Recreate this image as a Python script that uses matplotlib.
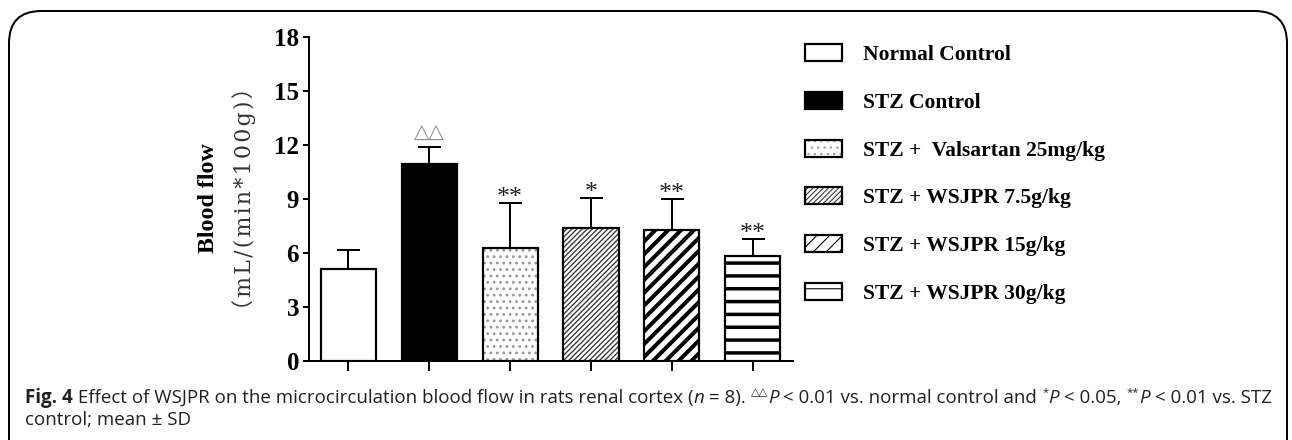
import numpy as np
import matplotlib
matplotlib.use("Agg")
import matplotlib.pyplot as plt
from matplotlib.patches import Rectangle, FancyBboxPatch
from matplotlib.transforms import IdentityTransform

# data
groups = ["Normal Control", "STZ Control", "STZ +  Valsartan 25mg/kg",
          "STZ + WSJPR 7.5g/kg", "STZ + WSJPR 15g/kg", "STZ + WSJPR 30g/kg"]
means = [5.07, 10.95, 6.28, 7.38, 7.28, 5.82]
sds = [1.06, 0.95, 2.47, 1.65, 1.70, 0.92]
marks = ["", "\u25b3\u25b3", "**", "*", "**", "**"]
yticks = [0, 3, 6, 9, 12, 15, 18]

W, H, DPI = 1292, 440, 77


def pt(px):
    # pixels -> points at this dpi
    return px * 72.0 / DPI


# look of each bar: face, hatch, hatch colour, hatch linewidth (px)
styles = [
    ("white", "", "black", 1),
    ("black", "", "black", 1),
    ("white", "..", "#9a9a9a", 1.6),
    ("white", "/////", "#333333", 1.3),
    ("white", "//", "black", 4.0),
    ("white", "-", "black", 3.5),
]

fig = plt.figure(figsize=(W / DPI, H / DPI), dpi=DPI)
fig.patch.set_facecolor("white")

# rounded frame round the whole figure
frame = FancyBboxPatch((9 / W, -0.2), (1287 - 9) / W, 1.2 - 11 / H,
                       boxstyle="round,pad=0,rounding_size=0.025",
                       transform=fig.transFigure, fill=False,
                       edgecolor="black", linewidth=pt(2), mutation_aspect=W / H)
fig.add_artist(frame)

ax = fig.add_axes([309 / W, (H - 360.5) / H, (793 - 309) / W, (360.5 - 37.3) / H])
x = np.arange(len(groups))
width = 0.68

handles = []
for i, (face, hatch, hcol, hlw) in enumerate(styles):
    with plt.rc_context({"hatch.linewidth": pt(hlw)}):
        ax.bar(x[i], means[i], width, color=face, edgecolor=hcol,
               hatch=hatch, linewidth=0, zorder=2)
        hp = Rectangle((0, 0), 1, 1, facecolor=face, edgecolor=hcol,
                       hatch=hatch, linewidth=0)
    ax.bar(x[i], means[i], width, color="none", edgecolor="black",
           linewidth=pt(2.2), zorder=3)
    op = Rectangle((0, 0), 1, 1, facecolor="none", edgecolor="black",
                   linewidth=pt(2.2))
    handles.append((hp, op))

ax.errorbar(x, means, yerr=[np.zeros(len(x)), sds], fmt="none", ecolor="black",
            elinewidth=pt(2), capsize=pt(11.5), capthick=pt(2), zorder=1)

for i, m in enumerate(marks):
    if not m:
        continue
    top = means[i] + sds[i]
    if m.startswith("\u25b3"):
        ax.annotate(m, (x[i], top), xytext=(0, pt(5)), textcoords="offset points",
                    ha="center", va="bottom", fontsize=pt(20), color="#8c8c8c",
                    family="DejaVu Sans")
    else:
        ax.annotate(m, (x[i], top), xytext=(0, pt(-6)), textcoords="offset points",
                    ha="center", va="bottom", fontsize=pt(26), color="#222222",
                    family="Liberation Serif")

ax.set_xlim(-0.483, 5.495)
ax.set_ylim(0, 18)
ax.set_yticks(yticks)
ax.set_yticklabels([str(t) for t in yticks], family="Liberation Serif",
                   fontweight="bold", fontsize=pt(25))
ax.set_xticks(x)
ax.set_xticklabels([])
ax.tick_params(axis="y", length=pt(6), width=pt(2), pad=pt(4))
ax.tick_params(axis="x", length=pt(10), width=pt(2))
for s in ["top", "right"]:
    ax.spines[s].set_visible(False)
for s in ["left", "bottom"]:
    ax.spines[s].set_linewidth(pt(2))

# y labels, two lines in different faces
unit = "\u200a".join("\uff08mL/(min*100g)\uff09")
fig.text(209 / W, (H - 198) / H, "Blood flow", rotation=90, ha="center", va="center",
         family="Liberation Serif", fontweight="bold", fontsize=pt(24))
fig.text(244 / W, (H - 199) / H, unit, rotation=90,
         ha="center", va="center", family=["DejaVu Serif", "Noto Sans CJK SC"],
         fontsize=pt(22), color="#333333")

leg = fig.legend(handles, groups, loc="upper left",
                 bbox_to_anchor=(805 / W, 1 - 44 / H), frameon=False,
                 borderpad=0, borderaxespad=0, handlelength=37 / 21.5,
                 handleheight=18 / 21.5, handletextpad=0.98, labelspacing=1.25,
                 prop={"family": "Liberation Serif", "weight": "bold", "size": pt(21.5)})

# caption, drawn run by run
renderer = fig.canvas.get_renderer()
cap_col = "#231f20"
line1 = [
    ("Fig. 4", "bold", "normal", 0),
    (" Effect of WSJPR on the microcirculation blood flow in rats renal cortex (", "normal", "normal", 0),
    ("n", "normal", "italic", 0),
    (" = 8). ", "normal", "normal", 0),
    ("\u25b3\u25b3", "normal", "normal", 1),
    ("P", "normal", "italic", 0),
    (" < 0.01 vs. normal control and ", "normal", "normal", 0),
    ("*", "normal", "normal", 1),
    ("P", "normal", "italic", 0),
    (" < 0.05, ", "normal", "normal", 0),
    ("**", "normal", "normal", 1),
    ("P", "normal", "italic", 0),
    (" < 0.01 vs. STZ", "normal", "normal", 0),
]
line2 = [("control; mean \u00b1 SD", "normal", "normal", 0)]


def draw_runs(runs, x0, y0, size):
    xx = x0
    for text, weight, style, sup in runs:
        fs = size * (0.6 if sup else 1.0)
        yy = y0 + (size / 72 * DPI * 0.42 if sup else 0)
        t = fig.text(xx, yy, text.replace(" ", "\u00a0"), transform=IdentityTransform(),
                     family=["Open Sans", "DejaVu Sans"], fontweight=weight,
                     fontstyle=style, fontsize=fs, color=cap_col, va="baseline")
        xx += t.get_window_extent(renderer).width
    return xx


cap_size = pt(18.7)
draw_runs(line1, 25, H - 403, cap_size)
draw_runs(line2, 25, H - 425, cap_size)

fig.savefig("out.png", dpi=DPI)
